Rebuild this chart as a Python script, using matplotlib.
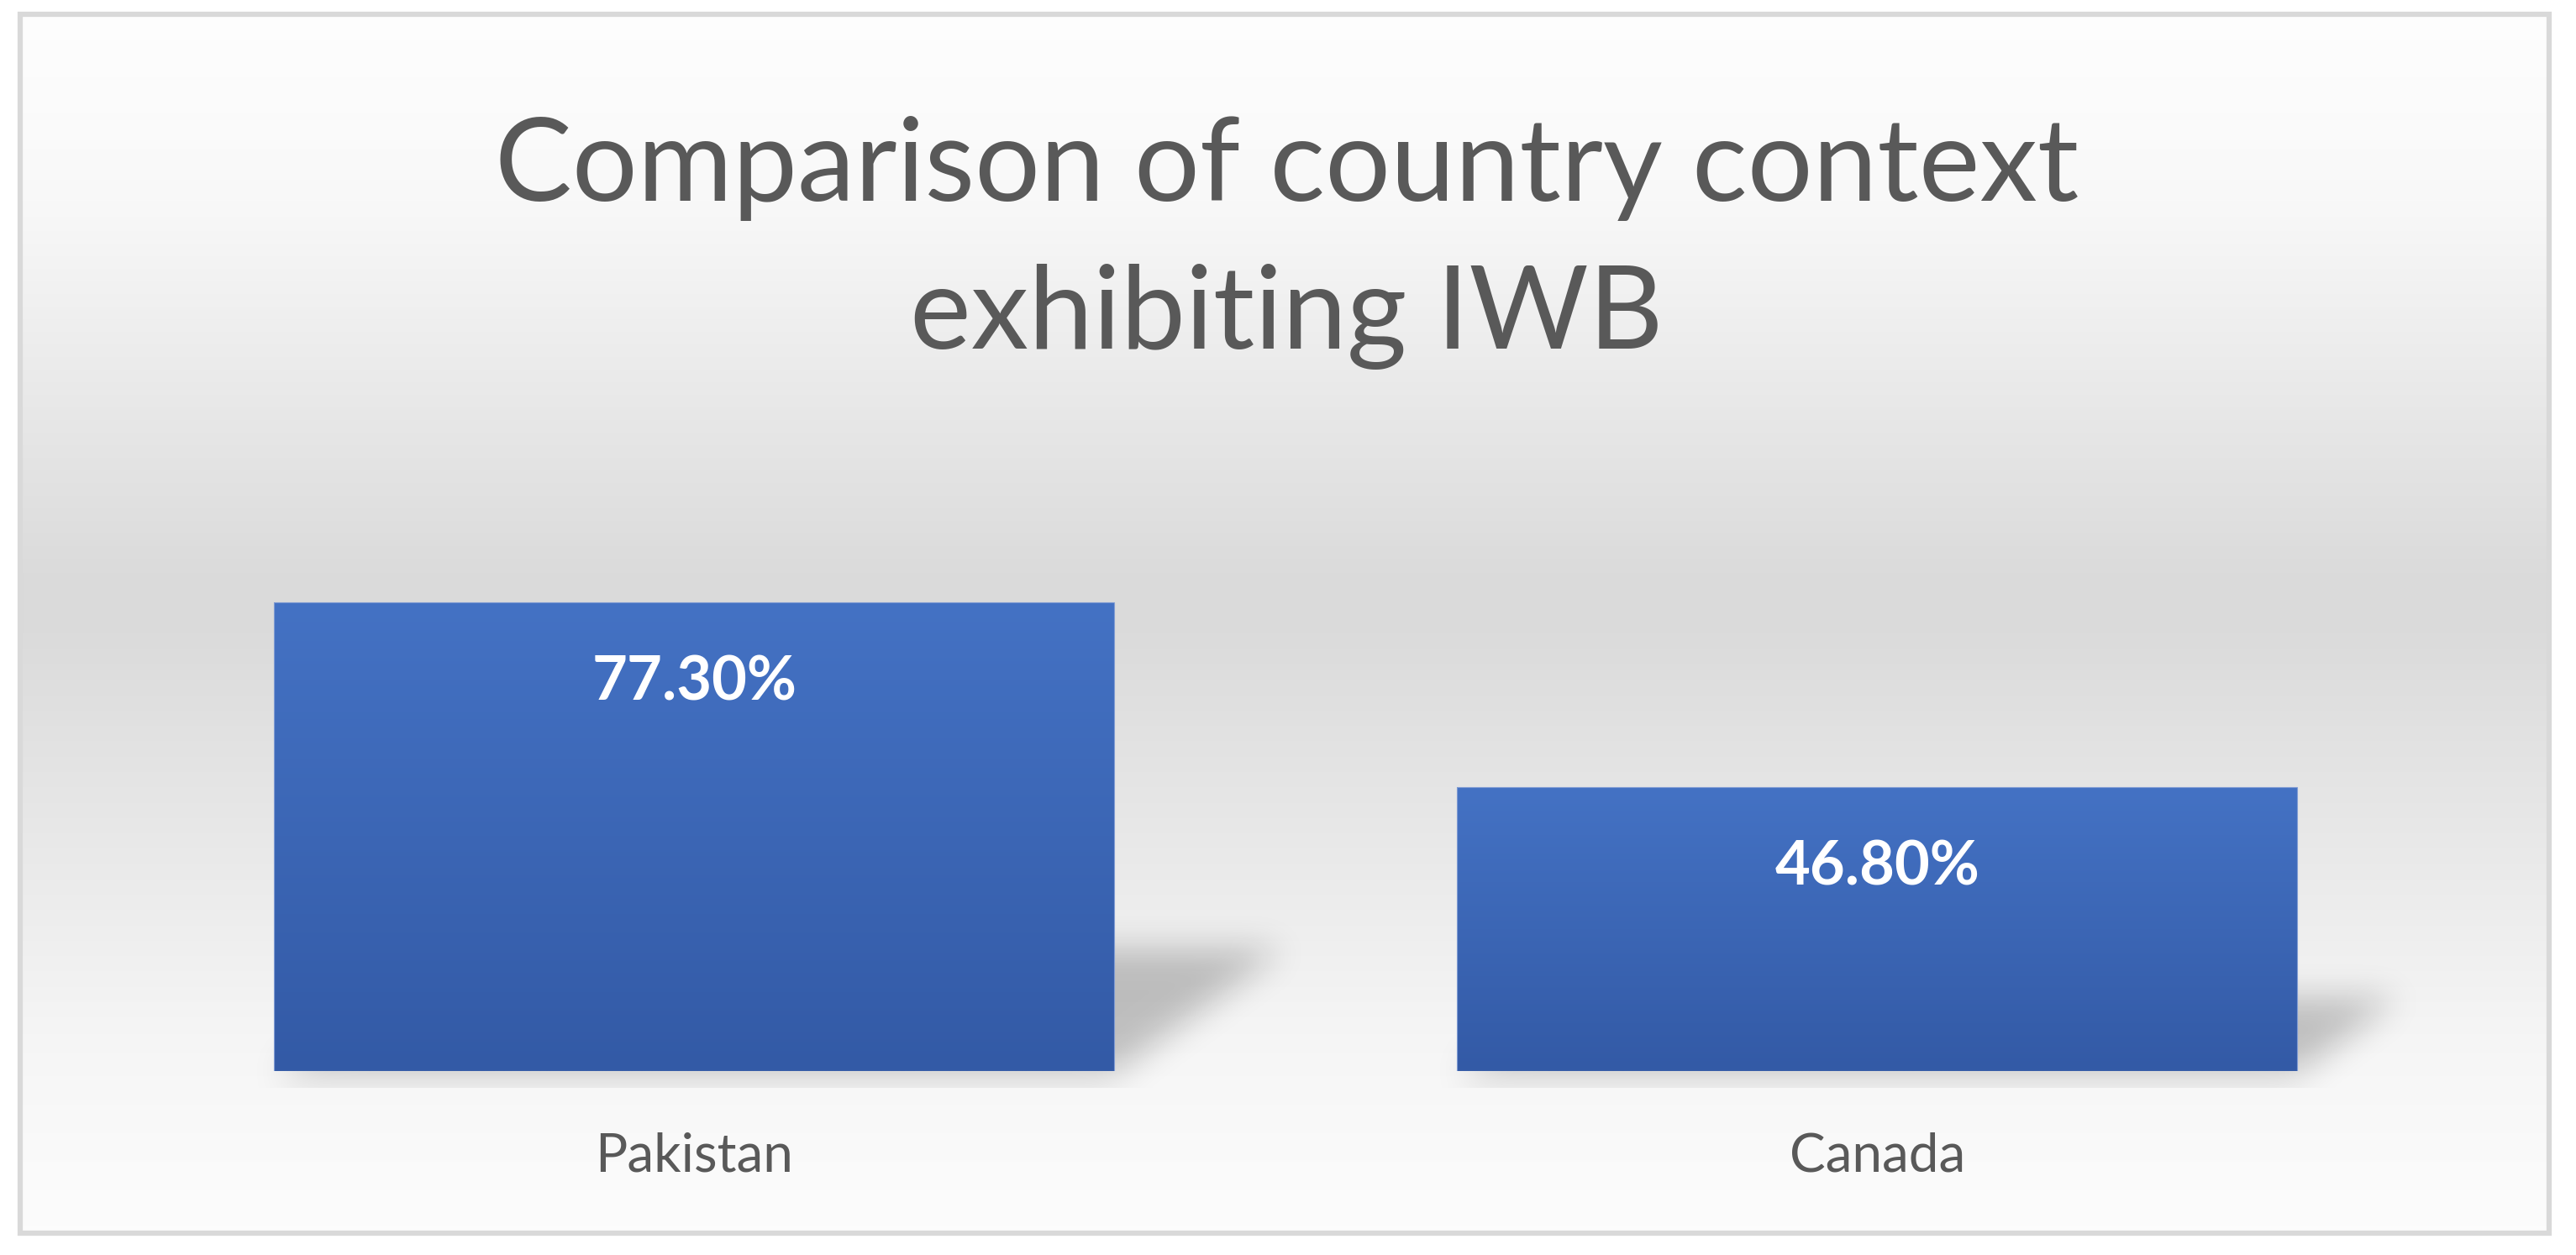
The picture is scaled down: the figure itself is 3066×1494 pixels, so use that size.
import numpy as np
import matplotlib
matplotlib.use("Agg")
import matplotlib.pyplot as plt
from matplotlib.path import Path
from matplotlib.patches import Rectangle

# data
countries = ["Pakistan", "Canada"]
shares = [77.3, 46.8]
share_labels = ["77.30%", "46.80%"]
title_lines = ["Comparison of country context", "exhibiting IWB"]

text_grey = "#595959"
bar_top = np.array([0x44, 0x72, 0xc4]) / 255
bar_bottom = np.array([0x33, 0x5a, 0xa6]) / 255

fig = plt.figure(figsize=(30.66, 14.94), dpi=100)
W, H = 3066, 1494

# background panel with vertical grey gradient and frame
bg = fig.add_axes([0, 0, 1, 1], zorder=-10)
bg.set_xlim(0, W)
bg.set_ylim(H, 0)
bg.axis("off")
stops_pos = [0.0, 0.15, 0.48, 0.85, 1.0]
stops_val = [0.995, 0.975, 0.85, 0.965, 0.99]
fy = np.linspace(0, 1, 400)
g = np.interp(fy, stops_pos, stops_val)
# soften the ridge of the piecewise ramp
k = np.ones(25) / 25
g = np.convolve(np.pad(g, 12, mode="edge"), k, mode="valid")
grad = np.repeat(g[:, None], 2, axis=1)
bg.imshow(np.dstack([grad, grad, grad]), extent=(24, 3034, 1468, 17),
          aspect="auto", interpolation="bilinear")
bg.add_patch(Rectangle((24, 17), 3010, 1451, fill=False, edgecolor="#d9d9d9", lw=4.5))

# main axes
ax = fig.add_axes([0.0398, 0.1466, 0.9186, 0.4833])
ax.patch.set_visible(False)
x = np.arange(len(countries))
width = 0.71
ax.set_xlim(-0.5, len(countries) - 0.5)
ax.set_ylim(0, 100)
for s in ax.spines.values():
    s.set_visible(False)
ax.set_yticks([])
ax.set_xticks(x)
ax.set_xticklabels(countries, fontsize=46, color=text_grey, family="Lato")
ax.tick_params(axis="x", length=0, pad=52)

bars = ax.bar(x, shares, width=width, color="none", edgecolor="#7f9bd3", lw=0.8, zorder=3)

# bar gradients
vg = np.linspace(0, 1, 256)[:, None]
cols = bar_top[None, None, :] * (1 - vg[..., None]) + bar_bottom[None, None, :] * vg[..., None]
cols = np.repeat(cols, 2, axis=1)
for b in bars:
    im = ax.imshow(cols, extent=(b.get_x(), b.get_x() + b.get_width(), 0, b.get_height()),
                   aspect="auto", zorder=2, interpolation="bilinear")
    im.set_clip_path(b)

# soft perspective shadows behind the bars
fig.canvas.draw()
bb = ax.get_window_extent()
ext_below = 20
x0, x1 = bb.x0, bb.x1
y0, y1 = bb.y0 - ext_below, bb.y1
step = 2
gx = np.arange(x0, x1, step) + step / 2
gy = np.arange(y0, y1, step) + step / 2
GX, GY = np.meshgrid(gx, gy)
pts = np.column_stack([GX.ravel(), GY.ravel()])
mask = np.zeros(GX.shape)
for b in bars:
    (L, B), (R, T) = ax.transData.transform([(b.get_x(), 0), (b.get_x() + b.get_width(), b.get_height())])
    hp = T - B
    sh, sx = 0.26 * hp, 0.36 * hp
    poly = Path([(L, B - 3), (R, B - 3), (R + sx, B + sh), (L + sx, B + sh), (L, B - 3)])
    mask = np.maximum(mask, poly.contains_points(pts).reshape(GX.shape).astype(float))


def box_blur(a, r, axis):
    pad = [(0, 0), (0, 0)]
    pad[axis] = (r + 1, r)
    p = np.pad(a, pad, mode="edge")
    c = np.cumsum(p, axis=axis)
    if axis == 0:
        return (c[2 * r + 1:] - c[:-2 * r - 1]) / (2 * r + 1)
    return (c[:, 2 * r + 1:] - c[:, :-2 * r - 1]) / (2 * r + 1)


for _ in range(3):
    mask = box_blur(mask, 9, 0)
    mask = box_blur(mask, 9, 1)

shadow = np.zeros(mask.shape + (4,))
shadow[..., 3] = mask * 0.22
yb = ax.transData.inverted().transform([(x0, y0)])[0][1]
ax.imshow(shadow, extent=(-0.5, len(countries) - 0.5, yb, 100), origin="lower",
          aspect="auto", zorder=1, clip_on=False, interpolation="bilinear")
ax.set_xlim(-0.5, len(countries) - 0.5)
ax.set_ylim(0, 100)

# value labels inside the bars
for b, lab in zip(bars, share_labels):
    ax.annotate(lab, (b.get_x() + b.get_width() / 2, b.get_height()),
                xytext=(0, -84), textcoords="offset points", ha="center", va="baseline",
                fontsize=52, fontweight="bold", color="white", family="Lato", zorder=4)

# two-line title
for line, base_px in zip(title_lines, [239, 415]):
    fig.text(0.4994, 1 - base_px / H, line, ha="center", va="baseline", fontsize=99,
             color=text_grey, family="Lato")

fig.savefig("out.png", dpi=100)
